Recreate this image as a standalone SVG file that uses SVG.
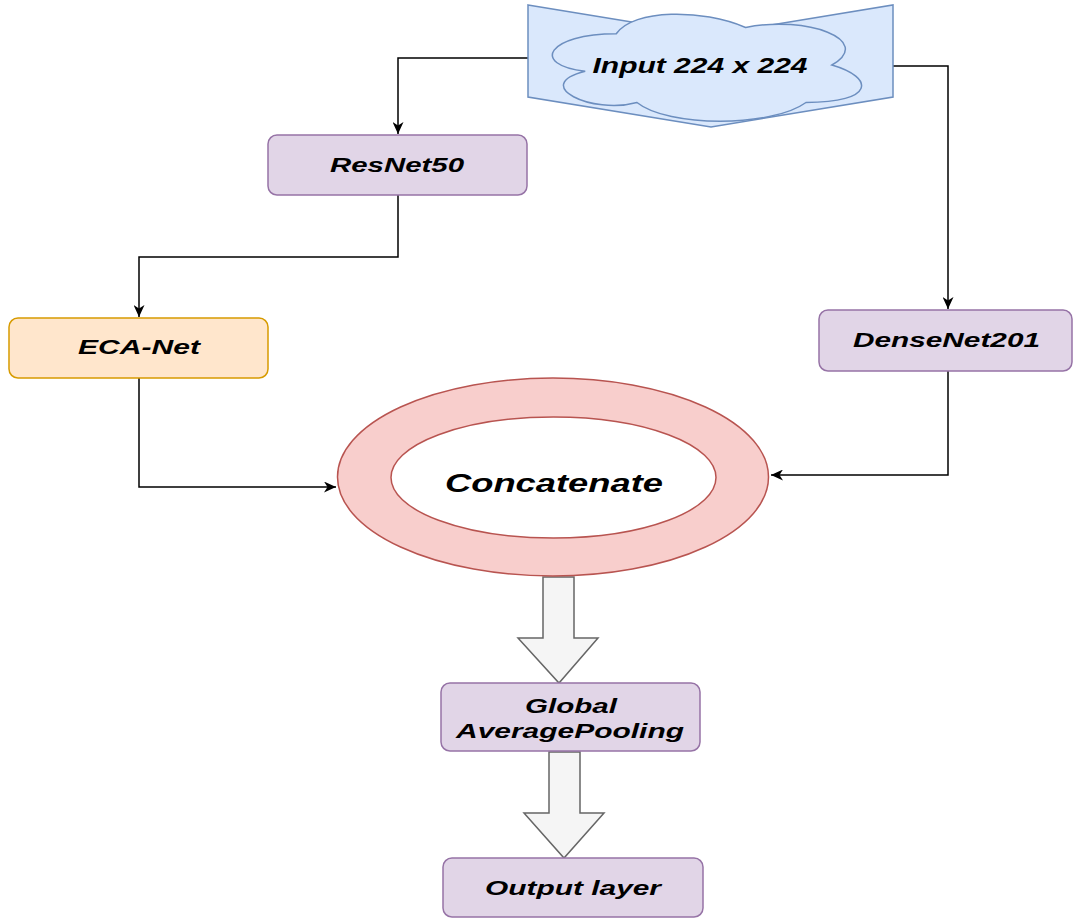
<svg xmlns="http://www.w3.org/2000/svg" width="1073" height="919" viewBox="0 0 1073 919">
<style>
.t{font-family:"Liberation Sans",Arial,sans-serif;font-weight:bold;font-style:italic;fill:#000;text-anchor:middle}
.p{fill:#e1d5e7;stroke:#9673a6;stroke-width:1.5}
.o{fill:#ffe6cc;stroke:#d79b00;stroke-width:1.5}
.b{fill:#dae8fc;stroke:#6c8ebf;stroke-width:1.5}
.ba{fill:#f5f5f5;stroke:#666666;stroke-width:1.5}
.c{fill:none;stroke:#000;stroke-width:1.5}
</style>
<defs>
<marker id="ah" markerUnits="userSpaceOnUse" markerWidth="13" markerHeight="11" refX="12" refY="5.5" orient="auto">
<path d="M0,0 L12,5.5 L0,11 L3.5,5.5 z" fill="#000"/>
</marker>
</defs>
<rect width="1073" height="919" fill="#fff"/>
<g id="connectors">
<path class="c" d="M528,58 H398 V134" marker-end="url(#ah)"/>
<path class="c" d="M893,66 H948 V309" marker-end="url(#ah)"/>
<path class="c" d="M398,195 V257 H139 V317" marker-end="url(#ah)"/>
<path class="c" d="M139,378 V487 H336" marker-end="url(#ah)"/>
<path class="c" d="M948,371 V475 H771" marker-end="url(#ah)"/>
<polygon id="arrow1" class="ba" points="543,577 574,577 574,638 598,638 559,683 518,638 543,638"/>
<polygon id="arrow2" class="ba" points="549,752 580,752 580,813 604,813 564,858 524,813 549,813"/>
</g>
<g id="input">
<polygon class="b" points="528,5 711,35 893,5 893,97 711,127 528,97"/>
<path class="b" d="M616.25,33.75 C547.25,33.75 530,65 585.2,71.25 C530,85 592.1,115 636.95,102.5 C668,127.5 771.5,127.5 806,102.5 C875,102.5 875,77.5 831.9,65 C875,40 806,15 745.6,27.5 C702.5,8.75 633.5,8.75 616.25,33.75 Z"/>
<text class="t" x="700" y="73" font-size="22" textLength="215" lengthAdjust="spacingAndGlyphs">Input 224 x 224</text>
</g>
<g id="resnet50">
<rect class="p" x="268" y="135" width="259" height="60" rx="9"/>
<text class="t" x="397" y="172" font-size="19.5" textLength="134" lengthAdjust="spacingAndGlyphs">ResNet50</text>
</g>
<g id="ecanet">
<rect class="o" x="9" y="318" width="259" height="60" rx="9"/>
<text class="t" x="139" y="354" font-size="19.5" textLength="122" lengthAdjust="spacingAndGlyphs">ECA-Net</text>
</g>
<g id="densenet201">
<rect class="p" x="819" y="310" width="253" height="61" rx="9"/>
<text class="t" x="946.5" y="347" font-size="19.5" textLength="187" lengthAdjust="spacingAndGlyphs">DenseNet201</text>
</g>
<g id="concatenate">
<path d="M337.5,477 A215.5,99 0 1,0 768.5,477 A215.5,99 0 1,0 337.5,477 Z M391,477.5 A162.5,60.5 0 1,0 716,477.5 A162.5,60.5 0 1,0 391,477.5 Z" fill="#f8cecc" fill-rule="evenodd" stroke="#b85450" stroke-width="1.5"/>
<text class="t" x="554" y="492" font-size="26" textLength="218" lengthAdjust="spacingAndGlyphs">Concatenate</text>
</g>
<g id="gap">
<rect class="p" x="441" y="683" width="259" height="68" rx="9"/>
<text class="t" x="571" y="713" font-size="20" textLength="92" lengthAdjust="spacingAndGlyphs">Global</text>
<text class="t" x="570" y="738" font-size="20" textLength="228" lengthAdjust="spacingAndGlyphs">AveragePooling</text>
</g>
<g id="output">
<rect class="p" x="443" y="858" width="260" height="59" rx="9"/>
<text class="t" x="573" y="895" font-size="20" textLength="176" lengthAdjust="spacingAndGlyphs">Output layer</text>
</g>
</svg>
